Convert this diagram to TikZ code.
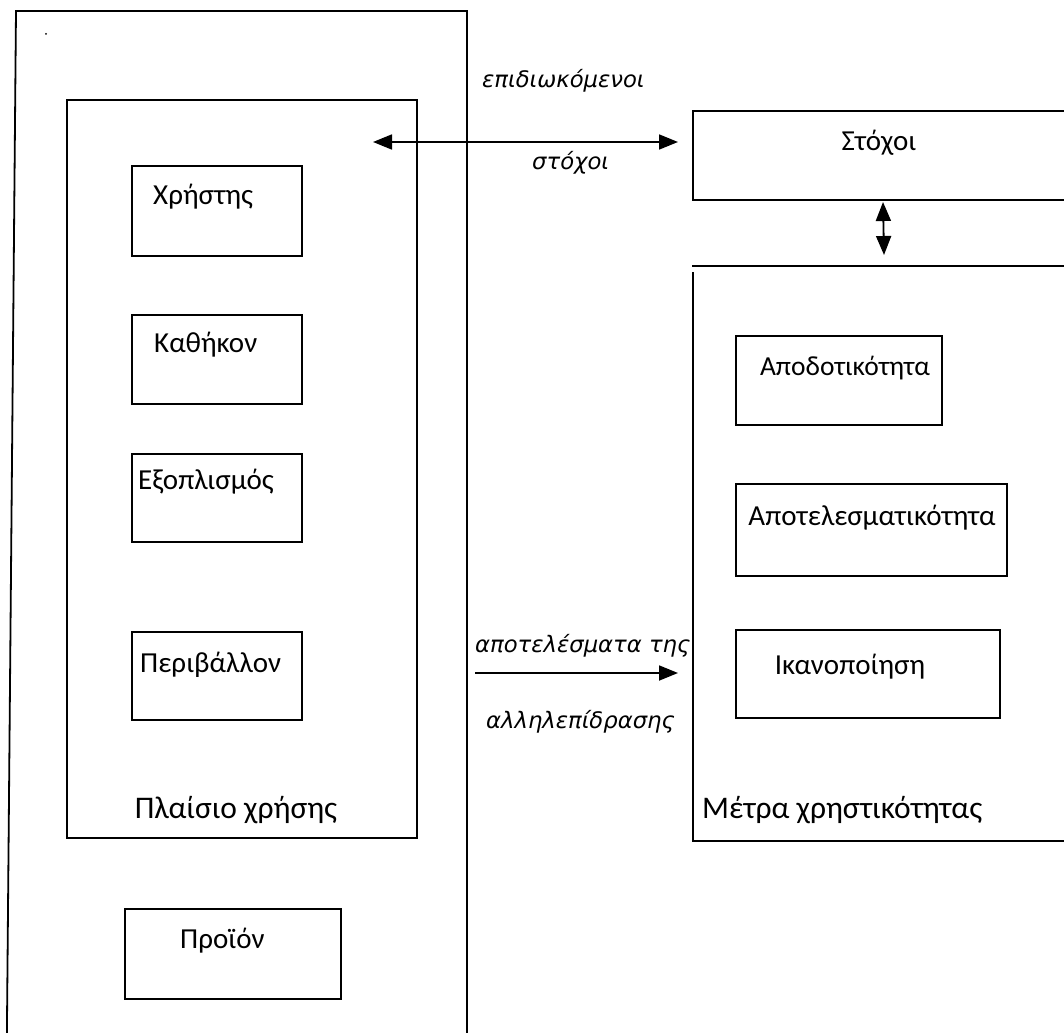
\documentclass[tikz,border=0pt]{standalone}
\usepackage{fontspec}
\setmainfont{Carlito}
\newfontfamily\oblfont{DejaVu Sans}
\usetikzlibrary{arrows.meta}
\begin{document}
\begin{tikzpicture}[x=1pt,y=-1pt,
  ln/.style={line width=1.8pt},
  box/.style={draw, line width=1.8pt, inner sep=0pt},
  lbl/.style={font=\fontsize{29}{34}\selectfont, inner sep=0pt},
  biglbl/.style={font=\fontsize{31.5}{36}\selectfont, inner sep=0pt},
  itl/.style={font=\oblfont\itshape\fontsize{22.7}{27}\selectfont, inner sep=0pt},
  tip/.tip={Triangle[length=19pt,width=15pt]},
  darr/.style={line width=1.8pt, tip-tip},
  sarr/.style={line width=1.8pt, -tip},
]
\clip (0,0) rectangle (1064,1032);
\fill[white] (0,0) rectangle (1064,1032);

% outer frame (product + context)
\draw[ln] (6.8,1045) -- (16,11) -- (467,11) -- (467,1045);
\fill (46,34) circle (1pt);

% context of use
\node[box, minimum width=350pt, minimum height=738pt] (context) at (242,469) {};
\node[box, minimum width=170pt, minimum height=90pt] (user) at (217,211) {};
\node[box, minimum width=170pt, minimum height=89pt] (task) at (217,359.5) {};
\node[box, minimum width=170pt, minimum height=88pt] (equip) at (217,498) {};
\node[box, minimum width=170pt, minimum height=88pt] (env) at (217,676) {};
\node[box, minimum width=216pt, minimum height=90pt] (product) at (233,954) {};

\node[lbl, anchor=base west] (tuser) at (153,205) {Χρήστης};
\node[lbl, anchor=base west] (ttask) at (154,352) {Καθήκον};
\node[lbl, anchor=base west] (tequip) at (138,489) {Εξοπλισμός};
\node[lbl, anchor=base west] (tenv) at (140,672) {Περιβάλλον};
\node[biglbl, anchor=base] (tcontext) at (236,818) {Πλαίσιο χρήσης};
\node[lbl, anchor=base west] (tproduct) at (180,948) {Προϊόν};

% goals
\node[box, minimum width=390pt, minimum height=89pt] (goals) at (888,155.5) {};
\node[lbl, anchor=base] (tgoals) at (879,151) {Στόχοι};

% usability measures
\draw[ln] (692,266) -- (1070,266);
\draw[ln] (693,272) -- (693,841) -- (1070,841);
\node[biglbl, anchor=base west] (tmeasures) at (702,818) {Μέτρα χρηστικότητας};

\node[box, minimum width=206pt, minimum height=89pt] (eff) at (839,380.5) {};
\node[box, minimum width=271pt, minimum height=92pt] (effect) at (871.5,530) {};
\node[box, minimum width=264pt, minimum height=88pt] (sat) at (868,674) {};
\node[lbl, anchor=base, font=\fontsize{27.5}{32}\selectfont] (teff) at (845,375) {Αποδοτικότητα};
\node[lbl, anchor=base] (teffect) at (872,525) {Αποτελεσματικότητα};
\node[lbl, anchor=base] (tsat) at (850,674) {Ικανοποίηση};

% arrows
\coordinate (h1) at (373,142);
\coordinate (h2) at (678,142);
\draw[darr] (h1) -- (h2);
\node[itl, anchor=base west] (tintended) at (482,88) {επιδιωκόμενοι};
\node[itl, anchor=base west] (tgoalsit) at (532,170) {στόχοι};

\coordinate (v1) at (883,202);
\coordinate (v2) at (884,255);
\draw[darr] (v1) -- (v2);

\coordinate (r1) at (475,673);
\coordinate (r2) at (678,673);
\draw[sarr] (r1) -- (r2);
\node[itl, anchor=base west] (tout1) at (475,652) {αποτελέσματα της};
\node[itl, anchor=base west] (tout2) at (486,728) {αλληλεπίδρασης};
\end{tikzpicture}
\end{document}
